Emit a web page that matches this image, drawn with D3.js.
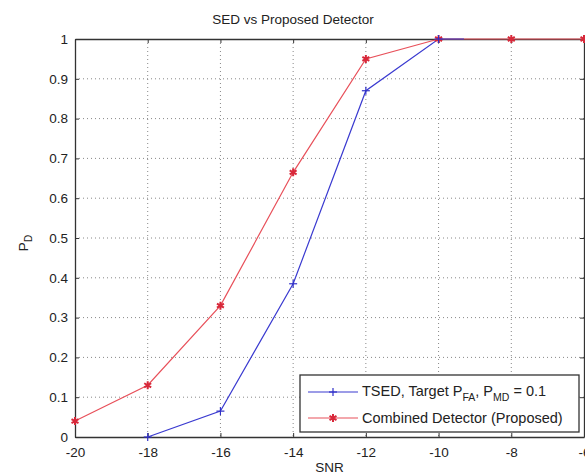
<!DOCTYPE html>
<html>
<head>
<meta charset="utf-8">
<script src="https://cdn.jsdelivr.net/npm/d3@7"></script>
<style>
  body { margin: 0; background: #fff; }
  text { font-family: "Liberation Sans", Arial, sans-serif; fill: #222; }
</style>
</head>
<body>
<svg id="canvas" width="585" height="476"></svg>
<script>
// values
var xTicks = [-20, -18, -16, -14, -12, -10, -8, -6];
var yTicks = [0, 0.1, 0.2, 0.3, 0.4, 0.5, 0.6, 0.7, 0.8, 0.9, 1];

var tsedSnr = [-18, -16, -14, -12, -10, -9.3];
var tsedPd  = [0, 0.065, 0.385, 0.87, 1, 1];

var combSnr = [-20, -18, -16, -14, -12, -10, -8, -6];
var combPd  = [0.04, 0.13, 0.33, 0.665, 0.95, 1, 1, 1];

var svg = d3.select('#canvas');
var pLeft = 75, pRight = 584, pTop = 39, pBottom = 437;

var x = d3.scaleLinear().domain([-20, -6]).range([pLeft, pRight]);
var y = d3.scaleLinear().domain([0, 1]).range([pBottom, pTop]);

// grid
svg.append('g').selectAll('line').data(xTicks.slice(1, -1)).enter()
  .append('line')
  .attr('x1', function (d) { return x(d); }).attr('x2', function (d) { return x(d); })
  .attr('y1', pTop).attr('y2', pBottom)
  .attr('stroke', '#888').attr('stroke-width', 1).attr('stroke-dasharray', '1,3');
svg.append('g').selectAll('line').data(yTicks.slice(1, -1)).enter()
  .append('line')
  .attr('x1', pLeft).attr('x2', pRight)
  .attr('y1', function (d) { return y(d); }).attr('y2', function (d) { return y(d); })
  .attr('stroke', '#888').attr('stroke-width', 1).attr('stroke-dasharray', '1,3');

// axes (ticks inside), plain hyphen minus like matlab
var xFmt = function (d) { return String(d); };
var xAxis = svg.append('g').attr('transform', 'translate(0,' + pBottom + ')')
  .call(d3.axisBottom(x).tickValues(xTicks).tickSizeInner(-4).tickSizeOuter(0).tickPadding(10)
    .tickFormat(xFmt));
var xTop = svg.append('g').attr('transform', 'translate(0,' + pTop + ')')
  .call(d3.axisTop(x).tickValues(xTicks).tickSizeInner(-4).tickSizeOuter(0).tickFormat(''));
var yAxis = svg.append('g').attr('transform', 'translate(' + pLeft + ',0)')
  .call(d3.axisLeft(y).tickValues(yTicks).tickSizeInner(-4).tickSizeOuter(0).tickPadding(7)
    .tickFormat(function (d) { return d === 0 || d === 1 ? String(d) : d3.format('.1f')(d); }));
var yRight = svg.append('g').attr('transform', 'translate(' + pRight + ',0)')
  .call(d3.axisRight(y).tickValues(yTicks).tickSizeInner(-4).tickSizeOuter(0).tickFormat(''));

[xAxis, xTop, yAxis, yRight].forEach(function (g) {
  g.selectAll('path').attr('stroke', '#333').attr('stroke-width', 1.3);
  g.selectAll('line').attr('stroke', '#333');
  g.selectAll('text').attr('font-size', 13.5).attr('fill', '#333')
    .attr('font-family', '"Liberation Sans", Arial, sans-serif');
});

// lines
var line = d3.line().x(function (d) { return x(d[0]); }).y(function (d) { return y(d[1]); });
var tsed = d3.zip(tsedSnr, tsedPd);
var comb = d3.zip(combSnr, combPd);

svg.append('path').datum(comb).attr('d', line)
  .attr('fill', 'none').attr('stroke', '#e8505a').attr('stroke-width', 1.2);
svg.append('path').datum(tsed).attr('d', line)
  .attr('fill', 'none').attr('stroke', '#3a3ad0').attr('stroke-width', 1.2);

// markers
function drawPlus(g, cx, cy, col) {
  g.append('line').attr('x1', cx - 4).attr('x2', cx + 4).attr('y1', cy).attr('y2', cy)
    .attr('stroke', col).attr('stroke-width', 1.2);
  g.append('line').attr('x1', cx).attr('x2', cx).attr('y1', cy - 4).attr('y2', cy + 4)
    .attr('stroke', col).attr('stroke-width', 1.2);
}
function drawStar(g, cx, cy, col) {
  g.append('path')
    .attr('d', d3.symbol().type(d3.symbolAsterisk).size(45)())
    .attr('transform', 'translate(' + cx + ',' + cy + ')')
    .attr('fill', 'none').attr('stroke', col).attr('stroke-width', 2);
}
var mk = svg.append('g');
comb.forEach(function (d) { drawStar(mk, x(d[0]), y(d[1]), '#d8283a'); });
tsed.slice(0, 5).forEach(function (d) { drawPlus(mk, x(d[0]), y(d[1]), '#3030c8'); });

// title and labels
svg.append('text').attr('x', 293).attr('y', 24).attr('text-anchor', 'middle')
  .attr('font-size', 13.5).text('SED vs Proposed Detector');
svg.append('text').attr('x', (pLeft + pRight) / 2).attr('y', 472).attr('text-anchor', 'middle')
  .attr('font-size', 13.5).text('SNR');
var yl = svg.append('text').attr('transform', 'translate(28,243) rotate(-90)')
  .attr('text-anchor', 'middle').attr('font-size', 13.5);
yl.append('tspan').text('P');
yl.append('tspan').attr('font-size', 10).attr('dy', 4).text('D');

// legend
var lg = svg.append('g');
lg.append('rect').attr('x', 300).attr('y', 375).attr('width', 279).attr('height', 57)
  .attr('fill', '#fff').attr('stroke', '#333').attr('stroke-width', 1.3);
var rows = [
  { col: '#3030c8', y: 392, kind: 'plus' },
  { col: '#d8283a', y: 418, kind: 'star' }
];
rows.forEach(function (r) {
  lg.append('line').attr('x1', 308).attr('x2', 358).attr('y1', r.y).attr('y2', r.y)
    .attr('stroke', r.kind === 'plus' ? '#3a3ad0' : '#e8505a').attr('stroke-width', 1.2);
  if (r.kind === 'plus') drawPlus(lg, 333, r.y, r.col); else drawStar(lg, 333, r.y, r.col);
});
var t1 = lg.append('text').attr('x', 362).attr('y', 396).attr('font-size', 14.5);
t1.append('tspan').text('TSED, Target P');
t1.append('tspan').attr('font-size', 10.5).attr('dy', 5).text('FA');
t1.append('tspan').attr('dy', -5).text(', P');
t1.append('tspan').attr('font-size', 10.5).attr('dy', 5).text('MD');
t1.append('tspan').attr('dy', -5).text(' = 0.1');
lg.append('text').attr('x', 362).attr('y', 423).attr('font-size', 14.5)
  .text('Combined Detector (Proposed)');
</script>
</body>
</html>
